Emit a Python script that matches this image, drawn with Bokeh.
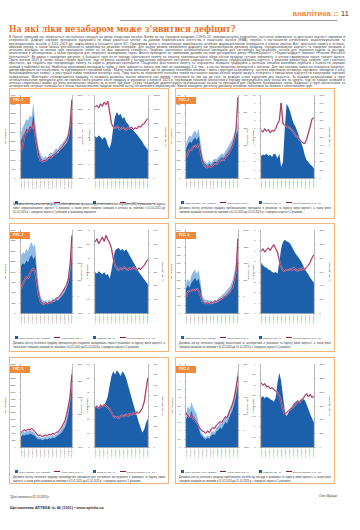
import math
from bokeh.plotting import figure
from bokeh.models import (Div, LinearAxis, Range1d, FixedTicker, SingleIntervalTicker, GridBox)
from bokeh.embed import file_html
from bokeh.resources import INLINE

# ---------------- data ----------------
DATES = ["01.2020", "04.2020", "07.2020", "10.2020", "01.2021", "04.2021", "07.2021",
         "10.2021", "01.2022", "04.2022", "07.2022", "10.2022", "01.2023", "04.2023"]

# РИС. 1
p1_total = [2480,2790,2970,3240,3150,3420,3330,4140,3060,2340,1710,1350,1170,1080,1220,1130,1310,1400,1350,1530,1620,1580,1760,1890,1980,2120,2250,2520,3150,4480]
p1_base = [2050,2300,2500,2700,2650,2850,2800,3500,2600,1950,1450,1150,1000,930,1050,980,1120,1200,1160,1300,1400,1350,1500,1620,1700,1800,1920,2150,2700,3900]
p1_idx = [-40,200,560,740,650,860,800,1100,560,200,-160,-340,-400,-340,-370,-280,-220,-250,-160,-130,-70,-10,50,110,200,290,380,560,980,1850]
p1_price = [5.16,5.28,5.1,5.4,5.22,5.52,5.34,5.58,4.8,3.96,3.72,3.6,3.78,3.66,3.54,3.72,3.6,3.48,3.66,3.6,3.72,3.54,3.66,3.6,3.78,3.72,3.9,3.96,4.2,4.32]
p1_stock = [6120,5880,6240,6000,5640,6000,5760,4800,4320,5400,7440,9000,9600,9120,9360,8640,8880,8160,7920,7440,7200,6960,6600,6360,6000,5640,5280,4800,4440,4080]

# РИС. 2
p2_total = [378,432,468,450,495,522,486,540,405,270,198,180,162,189,171,198,216,207,234,252,270,261,297,324,360,396,432,495,558,612]
p2_base = [320,365,400,385,420,445,415,460,345,230,170,153,138,160,145,168,184,176,199,214,230,222,252,275,306,337,367,420,474,520]
p2_idx = [25,50,75,70,90,100,85,110,65,10,-20,-30,-35,-25,-30,-20,-10,-15,0,5,15,10,30,40,55,75,100,140,200,390]
p2_price = [5.8,5.6,6.0,5.7,5.9,5.5,5.8,5.7,6.0,6.6,7.0,9.1,6.6,6.4,6.3,6.2,6.0,5.8,5.5,5.2,5.0,4.7,4.5,4.3,4.2,4.7,5.5,6.3,7.2,7.3]
p2_stock = [270,290,280,300,270,285,260,300,290,240,300,140,200,600,900,860,800,720,660,620,560,500,430,370,280,220,200,170,150,120]

# РИС. 3
p3_total = [1400,1480,1440,1560,1500,1640,1720,1600,1680,1100,700,440,340,300,320,280,340,300,360,340,400,380,440,500,560,640,760,920,1240,1960]
p3_base = [1150,1210,1180,1280,1230,1350,1410,1310,1380,900,570,360,280,245,260,230,280,245,295,280,330,310,360,410,460,525,620,750,1010,1600]
p3_idx = [250,400,500,600,550,700,800,850,750,400,50,-125,-200,-225,-175,-200,-150,-175,-125,-100,-50,-25,25,100,175,275,350,550,1000,1850]
p3_price = [2.58,2.7,2.52,2.64,2.76,2.61,2.82,2.67,2.55,2.34,1.98,1.74,1.62,1.56,1.65,1.59,1.68,1.62,1.56,1.65,1.59,1.68,1.62,1.56,1.65,1.59,1.68,1.74,1.86,1.95]
p3_stock = [300,288,306,294,282,300,276,288,252,312,396,456,468,474,456,468,450,462,444,420,396,372,348,324,300,282,264,246,228,210]

# РИС. 4
p4_total = [185,210,190,230,250,265,240,260,200,110,90,80,85,75,80,70,85,80,90,100,110,120,130,145,155,175,200,250,300,475]
p4_base = [150,170,155,185,200,215,195,210,160,90,72,64,68,60,64,56,68,64,72,80,88,96,104,116,124,140,160,200,240,380]
p4_idx = [0,150,200,175,225,200,250,175,50,-125,-175,-200,-175,-200,-150,-175,-125,-150,-100,-75,-50,0,25,75,125,200,300,500,800,1750]
p4_price = [6.0,6.24,5.92,6.16,6.32,6.08,6.4,6.64,6.24,5.92,5.12,4.48,4.16,4.08,4.24,4.16,4.32,4.16,4.4,4.24,4.08,4.32,4.16,4.4,4.24,4.48,4.64,4.96,5.36,5.68]
p4_stock = [732,696,672,660,636,624,600,588,600,576,744,936,1032,1068,1044,1032,1008,960,912,864,828,792,756,696,648,600,564,516,480,444]

# РИС. 5
p5_total = [510,570,540,600,570,630,600,570,510,420,360,390,330,360,390,360,420,390,450,420,480,540,600,660,780,900,1140,1500,2100,2940]
p5_base = [410,455,430,480,455,505,480,455,410,335,290,310,265,290,310,290,335,310,360,335,385,430,480,530,625,720,910,1200,1680,2350]
p5_idx = [-50,0,25,0,50,25,75,25,-25,-100,-150,-125,-175,-150,-125,-150,-100,-125,-75,-100,-50,-25,25,100,200,300,500,750,1050,1700]
p5_price = [28.8,30,28.2,30.6,29.4,31.2,30,28.8,27.6,25.2,22.8,21.6,22.2,21,22.8,23.4,22.2,24,22.8,24.6,23.4,25.2,24,25.8,24.6,26.4,28.8,33,42,50.4]
p5_stock = [384,400,376,416,392,408,440,496,600,688,736,704,744,720,688,736,712,672,608,544,480,416,360,304,240,192,144,176,240,280]

# РИС. 6
p6_total = [2.1,2.5,2.3,2.75,2.4,2.2,2.0,1.5,1.0,0.85,0.7,0.6,0.75,0.65,0.9,1.0,0.95,1.2,1.3,1.5,1.4,1.7,1.9,1.8,2.2,2.5,2.8,3.3,3.9,4.75]
p6_base = [1.7,2.0,1.85,2.2,1.9,1.75,1.6,1.2,0.8,0.68,0.56,0.48,0.6,0.52,0.72,0.8,0.76,0.96,1.04,1.2,1.12,1.36,1.52,1.44,1.76,2.0,2.24,2.64,3.12,3.8]
p6_idx = [220,180,160,200,150,130,100,60,20,0,-10,-30,0,-20,20,40,30,70,90,110,100,140,170,160,220,270,320,400,520,660]
p6_price = [3.12,3.0,3.08,2.92,2.96,2.84,2.88,2.8,2.72,2.64,2.48,2.2,1.84,1.6,1.68,1.76,1.84,1.92,2.0,2.08,2.2,2.16,2.28,2.36,2.48,2.6,2.44,2.56,2.4,2.48]
p6_stock = [900,930,885,915,900,870,855,825,900,1170,1350,1200,930,675,570,630,690,750,795,825,855,840,870,885,855,780,690,600,525,450]

LEG_SALES = ["Обсяг продажу, тис. упаковок", "Індекс зміни ціни, %"]
LEG_STOCK = ["Залишки, тис. уп.", "Середня вартість 1 уп., грн"]
AX_SALES = ["Тис. упаковок", "Зміна ціни, %"]
AX_STOCK = ["Вартість, грн", "Залишки, тис. уп."]

CAPTIONS = [
    "Динаміка обсягу аптечного продажу антибактеріальних препаратів для системного застосування (J01) в упаковках та індексу зміни середньозваженої вартості 1 упаковки, а також рівня товарних залишків в аптеках за тижнями з 01.01.2020 до 01.10.2023 р. і середньої вартості 1 упаковки у грошовому вираженні",
    "Динаміка обсягу аптечного продажу протикашльових препаратів в упаковках та індексу зміни вартості, а також рівня товарних залишків в аптеках за тижнями з 01.01.2020 до 01.10.2023 р. і середньої вартості 1 упаковки",
    "Динаміка обсягу аптечного продажу препаратів для лікування захворювань горла в упаковках та індексу зміни вартості, а також рівня товарних залишків за тижнями з 01.01.2020 до 01.10.2023 р. і середньої вартості 1 упаковки",
    "Динаміка обсягу аптечного продажу анальгетиків та антипіретиків в упаковках та індексу зміни вартості, а також рівня товарних залишків за тижнями з 01.01.2020 до 01.10.2023 р. і середньої вартості 1 упаковки",
    "Динаміка обсягу аптечного продажу противірусних препаратів для системного застосування в упаковках та індексу зміни вартості, а також рівня залишків за тижнями з 01.01.2020 до 01.10.2023 р. і середньої вартості 1 упаковки",
    "Динаміка обсягу аптечного продажу комбінованих засобів від застуди в упаковках та індексу зміни вартості, а також рівня товарних залишків за тижнями з 01.01.2020 до 01.10.2023 р. і середньої вартості 1 упаковки",
]

BODY = ("В Україні тривалий час зберігається нестабільна ситуація на ринку лікарських засобів. Вплив на неї справили пандемія COVID-19, "
        "повномасштабне вторгнення, логістичні обмеження та зростання вартості сировини й енергоносіїв. Дефіцит окремих препаратів відчувають не лише "
        "українські аптеки: за даними Європейського агентства з лікарських засобів (EMA), перебої з постачанням антибіотиків, жарознижувальних та "
        "протикашльових засобів у 2022–2023 рр. зафіксовано в більшості країн ЄС. Причинами цього є концентрація виробництва активних фармацевтичних "
        "інгредієнтів у кількох країнах Азії, зростання попиту в осінньо-зимовий період, а також низька рентабельність виробництва дешевих генериків. "
        "Для оцінки ризиків виникнення дефіциту ми проаналізували динаміку продажу, середньозваженої вартості та товарних залишків в аптечних закладах "
        "за низкою груп препаратів, попит на які має виражену сезонність. Зокрема, розглянуто антибактеріальні препарати для системного застосування, "
        "засоби для лікування кашлю та застуди, анальгетики й антипіретики, а також препарати для лікування захворювань горла. Аналіз проведено за "
        "тижневими даними системи дослідження ринку «PharmXplorer» / «Фармстандарт» компанії «Proxima Research International». Як видно з наведених "
        "рисунків, у більшості груп після періоду ажіотажного попиту на початку повномасштабної війни обсяги продажу суттєво знизилися, а аптеки "
        "сформували значні товарні запаси. Проте восени 2023 р. попит почав стрімко зростати, тоді як рівень залишків у натуральному вираженні "
        "поступово скорочується. Водночас середньозважена вартість 1 упаковки демонструє помірне, але стабільне зростання, що свідчить про перерозподіл "
        "попиту на користь дорожчих препаратів. Поєднання зростаючого попиту та скорочення залишків традиційно є ранньою ознакою можливих перебоїв з "
        "наявністю окремих позицій у найближчі місяці. Найбільш вразливими виглядають групи, у яких тривалість запасу вже нині не перевищує 3–4 тиж., "
        "а частка імпортних препаратів є високою. Для них важливо завчасно планувати закупівлі, диверсифікувати постачальників та підтримувати "
        "страховий запас. Варто також зазначити, що на динаміку показників впливає і зміна структури асортименту: частина виробників оптимізує "
        "портфель, виводячи з обігу низькомаржинальні позиції, а реєстрація нових генериків потребує часу. Тому навіть за збереження поточних темпів "
        "постачання окремі аптечні мережі можуть зіткнутися з тимчасовою відсутністю популярних торгових найменувань. Моніторинг співвідношення "
        "продажу та залишків дозволяє вчасно виявляти такі ризики і реагувати на них ще до того, як дефіцит стане відчутним для пацієнтів. "
        "За нашими розрахунками, у групі антибактеріальних препаратів для системного застосування обсяг продажу в упаковках у вересні 2023 р. "
        "перевищив показник аналогічного періоду попереднього року більш ніж на чверть, тоді як товарні залишки в аптеках скоротилися майже до рівня "
        "мінімальних значень за останні три роки. Схожу тенденцію демонструють протикашльові засоби та препарати для лікування захворювань горла. "
        "Водночас у групі анальгетиків та антипіретиків ситуація залишається більш збалансованою завдяки значній частці вітчизняного виробництва. "
        "Нижче наведено детальну динаміку основних показників за кожною з аналізованих груп.")

# ---------------- style ----------------
FONT = "Liberation Sans"
DARK = "#1c5fab"
LIGHT = "#8fbce6"
LINE = "#8e1446"
HALO = "#e7a9c2"
ORANGE = "#f08a3a"
BORDER = "#f5b37e"
N = len(p1_total)
XS = [i * (len(DATES) - 1) / (N - 1) for i in range(N)]
TICKS_X = list(range(len(DATES)))
PAGE_W, PAGE_H = 344, 514
ML_A, ML_B, MR, MT, MB = 19, 20, 28, 3, 27
FW_A, FW_B, FH = 53, 54, 83


def style_axis(ax):
    ax.axis_line_color = "#777"
    ax.axis_line_width = 0.5
    ax.major_tick_line_color = "#777"
    ax.major_tick_line_width = 0.5
    ax.major_tick_out = 1
    ax.major_tick_in = 0
    ax.minor_tick_line_color = None
    ax.major_label_text_font = FONT
    ax.major_label_text_font_size = "2.3px"
    ax.major_label_text_color = "#333"
    ax.major_label_standoff = 1
    ax.axis_label_text_font = FONT
    ax.axis_label_text_font_size = "2.5px"
    ax.axis_label_text_font_style = "normal"
    ax.axis_label_text_color = "#333"
    ax.axis_label_standoff = 1


def make_fig(fw, mbl, left_rng, left_step, right_rng, right_step, labels):
    p = figure(width=mbl + fw + MR, height=MT + FH + MB, output_backend="svg", toolbar_location=None,
               x_range=Range1d(-0.15, len(DATES) - 0.85), y_range=Range1d(*left_rng),
               min_border_left=mbl, min_border_right=MR, min_border_top=MT,
               min_border_bottom=MB, border_fill_alpha=0, background_fill_color="white")
    p.title.visible = False
    p.extra_y_ranges = {"r": Range1d(*right_rng)}
    p.outline_line_color = None
    p.grid.visible = False
    p.yaxis.ticker = SingleIntervalTicker(interval=left_step)
    p.yaxis.axis_label = labels[0]
    rax = LinearAxis(y_range_name="r", ticker=SingleIntervalTicker(interval=right_step),
                     axis_label=labels[1])
    p.add_layout(rax, "right")
    p.xaxis.ticker = FixedTicker(ticks=TICKS_X)
    p.xaxis.major_label_overrides = {t: d for t, d in zip(TICKS_X, DATES)}
    p.xaxis.major_label_orientation = math.pi / 2
    for ax in p.axis:
        style_axis(ax)
    return p


def sales_fig(total, base, idx, lr, ls, rr, rs):
    p = make_fig(FW_A, ML_A, lr, ls, rr, rs, AX_SALES)
    p.varea(x=XS, y1=0, y2=total, fill_color=LIGHT)
    p.varea(x=XS, y1=0, y2=base, fill_color=DARK)
    p.line(XS, idx, line_color=HALO, line_width=1.7, line_alpha=0.85, y_range_name="r")
    p.line(XS, idx, line_color=LINE, line_width=0.8, y_range_name="r")
    return p


def stock_fig(price, stock, lr, ls, rr, rs):
    p = make_fig(FW_B, ML_B, lr, ls, rr, rs, AX_STOCK)
    p.varea(x=XS, y1=0, y2=stock, fill_color=DARK, y_range_name="r")
    p.line(XS, price, line_color=HALO, line_width=1.7, line_alpha=0.85)
    p.line(XS, price, line_color=LINE, line_width=0.8)
    return p


def legend_div(labels):
    return Div(width=80, height=5, text=(
        f"<div style='display:flex;align-items:center;white-space:nowrap;width:80px;"
        f"font:2.3px \"{FONT}\";color:#333;height:5px'>"
        f"<span style='display:inline-block;width:3px;height:3px;background:{DARK};margin-right:1px'></span>{labels[0]}"
        f"<span style='display:inline-block;width:6px;height:0.8px;background:{LINE};margin:0 1px 0 4px'></span>{labels[1]}"
        f"</div>"))


figs_items, over_items = [], []


def place(lst, model, x, y, w, h):
    lst.append((model, int(y), int(x), int(h), int(w)))


def panel(num, px, py, ph, fa, fb, cap):
    # frames: A at (px+15, py+12), B at (px+90, py+12)
    place(figs_items, fa, px + 15 - ML_A, py + 12 - MT, ML_A + FW_A + MR, MT + FH + MB)
    place(figs_items, fb, px + 90 - ML_B, py + 12 - MT, ML_B + FW_B + MR, MT + FH + MB)
    place(over_items, Div(width=160, height=ph, text=(
        f"<div style='width:160px;height:{ph}px;border:1px solid {BORDER};box-sizing:border-box'></div>")),
          px, py, 160, ph)
    place(over_items, Div(width=20, height=7, text=(
        f"<div style='width:20px;height:7px;background:{ORANGE};color:#fff;"
        f"font:bold 3.2px \"{FONT}\";line-height:7px;padding-left:3px;box-sizing:border-box'>РИС. {num}</div>")),
          px + 1, py + 1, 20, 7)
    place(over_items, legend_div(LEG_SALES), px + 6, py + 104, 80, 5)
    place(over_items, legend_div(LEG_STOCK), px + 84, py + 104, 80, 5)
    place(over_items, Div(width=160, height=ph - 114, text=(
        f"<div style='width:160px;box-sizing:border-box;padding:0 4px;font:2.6px/3.9px \"{FONT}\";"
        f"color:#333;text-align:justify'>{cap}</div>")),
          px, py + 113, 160, ph - 114)


f1a = sales_fig(p1_total, p1_base, p1_idx, (0, 4500), 500, (-1000, 2000), 500)
f1b = stock_fig(p1_price, p1_stock, (0, 6), 1, (0, 12000), 2000)
f2a = sales_fig(p2_total, p2_base, p2_idx, (0, 900), 100, (-100, 400), 100)
f2b = stock_fig(p2_price, p2_stock, (0, 10), 1, (0, 1000), 100)
f3a = sales_fig(p3_total, p3_base, p3_idx, (0, 2000), 250, (-500, 2000), 500)
f3b = stock_fig(p3_price, p3_stock, (0, 3), 0.5, (0, 600), 100)
f4a = sales_fig(p4_total, p4_base, p4_idx, (0, 500), 50, (-500, 2000), 500)
f4b = stock_fig(p4_price, p4_stock, (0, 8), 1, (0, 1200), 200)
f5a = sales_fig(p5_total, p5_base, p5_idx, (0, 3000), 250, (-500, 2000), 500)
f5b = stock_fig(p5_price, p5_stock, (0, 60), 10, (0, 800), 100)
f6a = sales_fig(p6_total, p6_base, p6_idx, (0, 5), 0.5, (-200, 800), 200)
f6b = stock_fig(p6_price, p6_stock, (0, 4), 0.5, (0, 1500), 250)

LX, RX = 4, 170
panel(1, LX, 83, 131, f1a, f1b, CAPTIONS[0])
panel(2, RX, 83, 131, f2a, f2b, CAPTIONS[1])
panel(3, LX, 218, 129, f3a, f3b, CAPTIONS[2])
panel(4, RX, 218, 129, f4a, f4b, CAPTIONS[3])
panel(5, LX, 352, 127, f5a, f5b, CAPTIONS[4])
panel(6, RX, 352, 127, f6a, f6b, CAPTIONS[5])

header = Div(width=PAGE_W, height=83, text=(
    f"<div style='position:relative;width:{PAGE_W}px;height:83px;font-family:\"{FONT}\"'>"
    f"<div style='position:absolute;right:0;top:4px;font:bold 8px \"{FONT}\";color:{ORANGE}'>аналітика ::"
    f" <span style='color:#444;font-weight:normal'>11</span></div>"
    f"<div style='position:absolute;left:115px;right:12px;top:14.5px;border-top:0.8px solid #999'></div>"
    f"<div style='position:absolute;left:4px;top:18px;font:bold 10px \"DejaVu Serif Condensed\";color:#ec6f25;"
    f"white-space:nowrap;transform:scaleX(0.88);transform-origin:left top'>"
    f"На які ліки незабаром може з’явитися дефіцит?</div>"
    f"<div style='position:absolute;left:4px;width:336px;top:31px;font:3px/3.3px \"{FONT}\";letter-spacing:0.15px;"
    f"color:#333;text-align:justify'>{BODY}</div>"
    f"</div>"))
place(over_items, header, 0, 0, PAGE_W, 83)

footer = Div(width=PAGE_W, height=34, text=(
    f"<div style='position:relative;width:{PAGE_W}px;height:34px;font-family:\"{FONT}\"'>"
    f"<div style='position:absolute;left:5px;top:11px;font:italic 2.8px \"{FONT}\";color:#333'>*Дані станом на 01.10.2023 р.</div>"
    f"<div style='position:absolute;right:12px;top:10px;font:italic 3px \"{FONT}\";color:#333'>Олег Вуйцик</div>"
    f"<div style='position:absolute;left:5px;top:22px;font:bold 3.8px \"{FONT}\";color:#333'>Щотижневик АПТЕКА № 46 (1261) • www.apteka.ua</div>"
    f"</div>"))
place(over_items, footer, 0, 479, PAGE_W, 34)
place(over_items, Div(width=1, height=1, text=""), PAGE_W - 1, PAGE_H - 1, 1, 1)

page = GridBox(children=figs_items + over_items,
               rows=["1px"] * PAGE_H, cols=["1px"] * PAGE_W, spacing=0)

open("out.html", "w").write(file_html(page, INLINE))
